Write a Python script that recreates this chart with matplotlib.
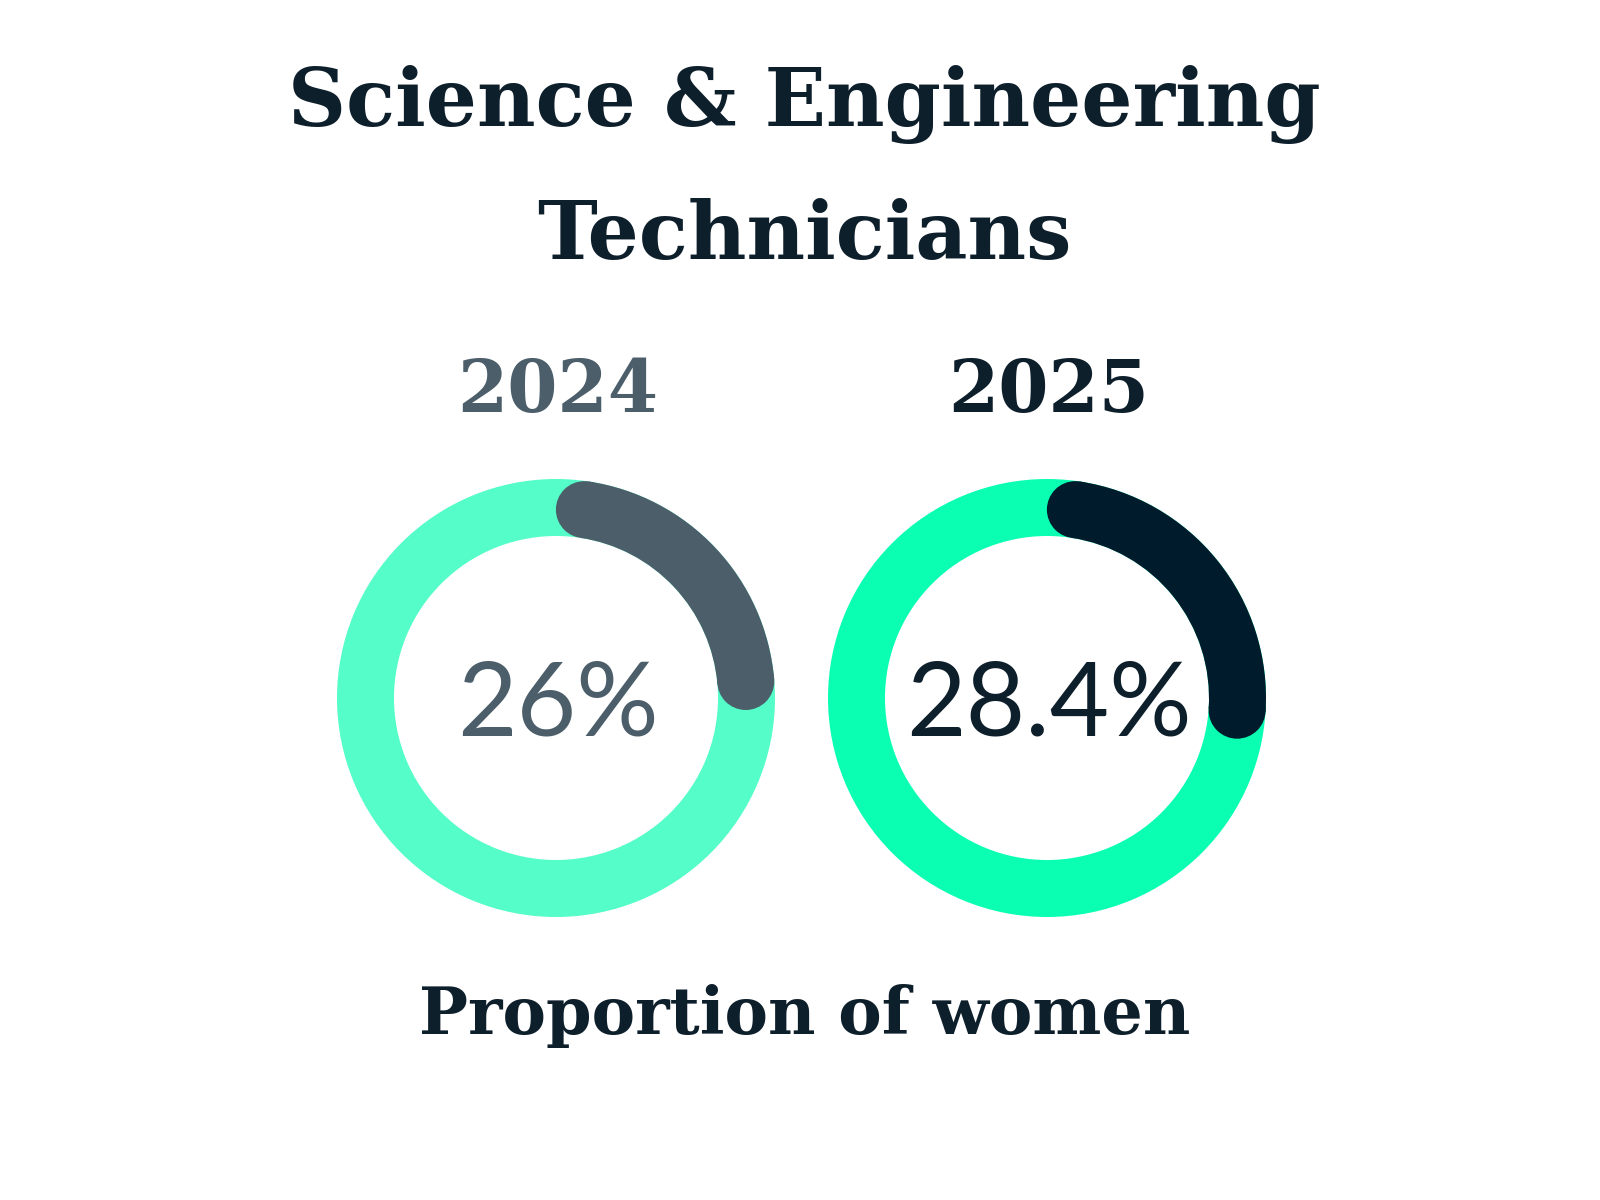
import numpy as np
import matplotlib.pyplot as plt
from matplotlib.patches import Wedge, Circle

# data
years = ['2024', '2025']
shares = [26.0, 28.4]
share_labels = ['26%', '28.4%']
title_lines = ['Science & Engineering', 'Technicians']
caption = 'Proportion of women'

ring_colors = ['#55FDC8', '#0BFFB3']
arc_colors = ['#4B5E6A', '#001B2B']
year_colors = ['#4B5E6A', '#0E1F2C']
navy = '#0E1F2C'

fig = plt.figure(figsize=(16, 12), dpi=100)
ax = fig.add_axes([0, 0, 1, 1])
ax.set_xlim(0, 1600)
ax.set_ylim(1200, 0)
ax.set_aspect('equal')
ax.axis('off')

slab = 'DejaVu Serif'
light = ['Lato', 'DejaVu Sans']

ax.text(804, 126, title_lines[0], ha='center', va='baseline', fontsize=58,
        fontweight='bold', family=slab, color=navy)
ax.text(804, 259, title_lines[1], ha='center', va='baseline', fontsize=58,
        fontweight='bold', family=slab, color=navy)

centers_x = [556, 1047]
cy = 698
R = 219
w = 57
rm = R - w / 2
inset = np.degrees((w / 2) / rm)

for i in range(len(years)):
    cx = centers_x[i]
    ax.add_patch(Wedge((cx, cy), R, 0, 360, width=w, color=ring_colors[i], lw=0))
    t1 = -90 + inset
    t2 = -90 + shares[i] / 100 * 360 - inset
    ax.add_patch(Wedge((cx, cy), R, t1, t2, width=w, color=arc_colors[i], lw=0))
    for t in (t1, t2):
        ax.add_patch(Circle((cx + rm * np.cos(np.radians(t)), cy + rm * np.sin(np.radians(t))),
                            w / 2, color=arc_colors[i], lw=0))
    ax.text(cx + 2, 412, years[i], ha='center', va='baseline', fontsize=52,
            fontweight='bold', family=slab, color=year_colors[i])
    ax.text(cx + 2, 736, share_labels[i], ha='center', va='baseline', fontsize=74,
            fontweight='normal', family=light, color=year_colors[i])

ax.text(805, 1034, caption, ha='center', va='baseline', fontsize=47,
        fontweight='bold', family=slab, color=navy)

fig.savefig('out.png', dpi=100, facecolor='white')
